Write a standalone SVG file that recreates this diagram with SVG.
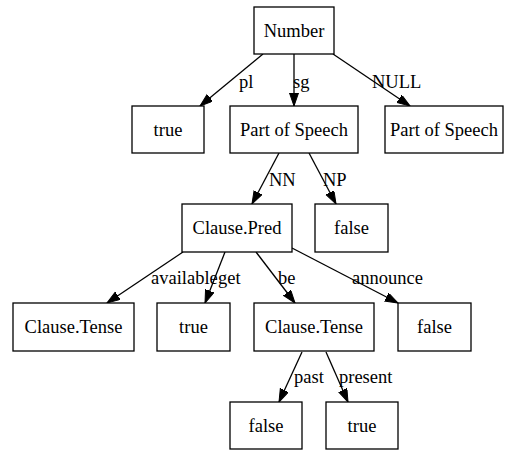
<svg xmlns="http://www.w3.org/2000/svg" width="506" height="450" viewBox="0 0 506 450">
  <style>
    .node rect { fill: #ffffff; stroke: #000000; stroke-width: 1.3; }
    .node text { font-family: "Liberation Serif", "Times New Roman", serif; font-size: 18.5px; text-anchor: middle; fill: #000000; }
    .edges line { stroke: #000000; stroke-width: 1.3; marker-end: url(#arrow); }
    .edges text { font-family: "Liberation Serif", "Times New Roman", serif; font-size: 18.5px; fill: #000000; }
  </style>
  <defs>
    <marker id="arrow" markerUnits="userSpaceOnUse" markerWidth="14" markerHeight="10" refX="13" refY="4.5" orient="auto">
      <path d="M0,0 L13,4.5 L0,9 z" fill="#000000" stroke="#000000" stroke-width="1"/>
    </marker>
  </defs>
  <rect width="506" height="450" fill="#ffffff"/>

  <g class="edges">
    <line x1="263" y1="54" x2="200" y2="106"/>
    <text x="239" y="88">pl</text>
    <line x1="294" y1="54" x2="294" y2="106"/>
    <text x="293" y="88">sg</text>
    <line x1="333" y1="54" x2="410" y2="106"/>
    <text x="372" y="88">NULL</text>

    <line x1="279" y1="153" x2="252" y2="204"/>
    <text x="269" y="186">NN</text>
    <line x1="309" y1="153" x2="336" y2="204"/>
    <text x="323" y="186">NP</text>

    <line x1="183" y1="252" x2="107" y2="303"/>
    <text x="151" y="284">available</text>
    <line x1="225" y1="252" x2="205" y2="303"/>
    <text x="218" y="284">get</text>
    <line x1="256" y1="252" x2="295" y2="303"/>
    <text x="278" y="284">be</text>
    <line x1="292" y1="248" x2="398" y2="303"/>
    <text x="352" y="284">announce</text>

    <line x1="302" y1="352" x2="279" y2="402"/>
    <text x="294" y="383">past</text>
    <line x1="326" y1="352" x2="348" y2="402"/>
    <text x="339" y="383">present</text>
  </g>

  <g id="number" class="node"><rect x="254" y="7" width="80" height="47"/><text x="294" y="37">Number</text></g>

  <g id="pl-true" class="node"><rect x="132" y="106" width="72" height="47"/><text x="168" y="136">true</text></g>
  <g id="pos-sg" class="node"><rect x="230" y="106" width="128" height="47"/><text x="294" y="136">Part of Speech</text></g>
  <g id="pos-null" class="node"><rect x="385" y="106" width="118" height="47"/><text x="444" y="136">Part of Speech</text></g>

  <g id="clause-pred" class="node"><rect x="182" y="204" width="110" height="48"/><text x="237" y="234">Clause.Pred</text></g>
  <g id="np-false" class="node"><rect x="315" y="204" width="73" height="48"/><text x="351.5" y="234">false</text></g>

  <g id="tense-available" class="node"><rect x="13" y="303" width="121" height="48"/><text x="73.5" y="333">Clause.Tense</text></g>
  <g id="get-true" class="node"><rect x="157" y="303" width="73" height="48"/><text x="193.5" y="333">true</text></g>
  <g id="tense-be" class="node"><rect x="254" y="303" width="120" height="48"/><text x="314" y="333">Clause.Tense</text></g>
  <g id="announce-false" class="node"><rect x="398" y="303" width="73" height="48"/><text x="434.5" y="333">false</text></g>

  <g id="past-false" class="node"><rect x="230" y="402" width="72" height="47"/><text x="266" y="432">false</text></g>
  <g id="present-true" class="node"><rect x="326" y="402" width="72" height="47"/><text x="362" y="432">true</text></g>
</svg>
